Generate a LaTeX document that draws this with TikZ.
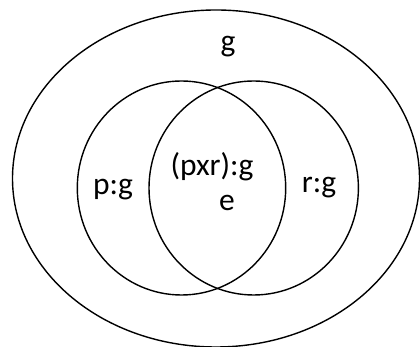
\documentclass[tikz,border=0pt]{standalone}
\usepackage{fontspec}
\setmainfont{Carlito}
\begin{document}
\begin{tikzpicture}[x=1pt,y=1pt,
  outline/.style={draw=black,line width=1.4pt},
  lbl/.style={font=\fontsize{31.5}{34}\selectfont,inner sep=0pt}]
\useasboundingbox (0,0) rectangle (420,347);
\begin{scope}
\clip (0,0) rectangle (420,347);
\draw[outline] (216,168.5) ellipse [x radius=203.5, y radius=168.5];
\end{scope}
\draw[outline] (181.5,159) ellipse [x radius=104.2, y radius=107];
\draw[outline] (253.7,159) ellipse [x radius=104.7, y radius=107];
\node[lbl] (g) at (228,300) {g};
\node[lbl] (p) at (113,157) {p:g};
\node[lbl] (pxr) at (212,180) {(pxr):g};
\node[lbl] (e) at (227,144) {e};
\node[lbl] (r) at (319,159) {r:g};
\end{tikzpicture}
\end{document}
